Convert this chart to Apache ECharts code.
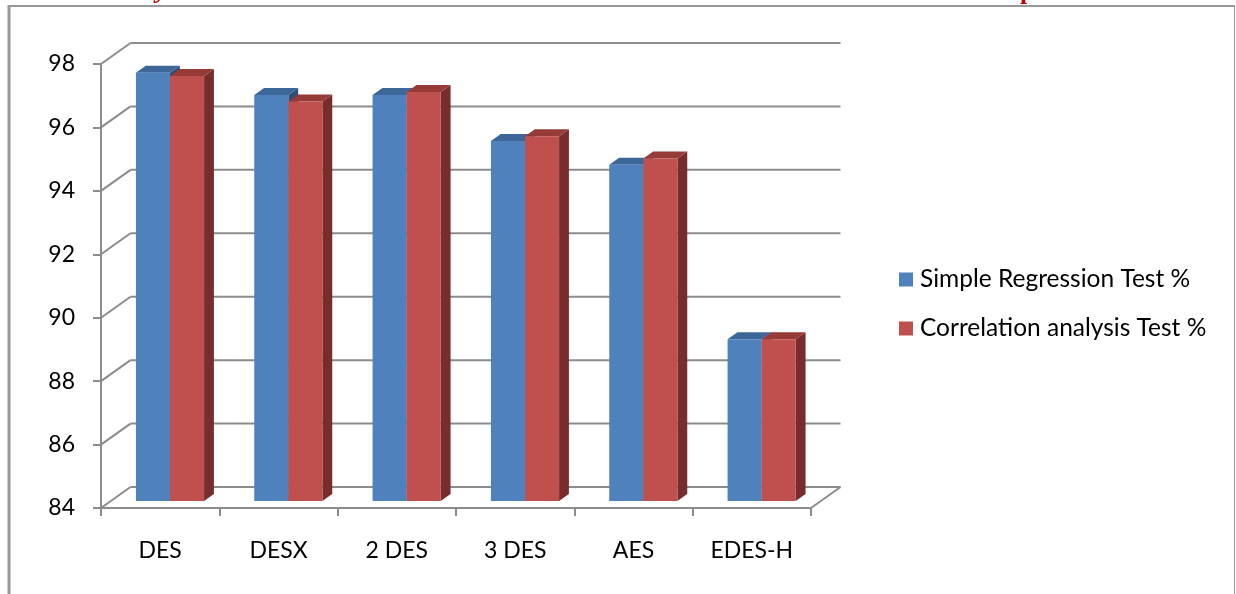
<!DOCTYPE html>
<html>
<head>
<meta charset="utf-8">
<script src="https://cdn.jsdelivr.net/npm/echarts@6/dist/echarts.min.js"></script>
<style>
html,body{margin:0;padding:0;background:#fff;}
#chart{width:1236px;height:594px;}
</style>
</head>
<body>
<div id="chart"></div>
<script>
// ---- data ----
const categories = ['DES', 'DESX', '2 DES', '3 DES', 'AES', 'EDES-H'];
const simpleRegression = [97.5, 96.8, 96.8, 95.35, 94.6, 89.1];
const correlationAnalysis = [97.4, 96.6, 96.9, 95.5, 94.8, 89.1];
const seriesNames = ['Simple Regression Test %', 'Correlation analysis Test %'];
const yTicks = [84, 86, 88, 90, 92, 94, 96, 98];

// ---- style constants ----
const FONT = 'Lato';
const GRID_COLOR = '#8c8c8c';
const DX = 29.5, DY = -21;          // depth of the 3D floor/wall
const BAR_START = 1 / 3;            // bars sit from 1/3 ...
const BAR_DEPTH = 1 / 3;            // ... with 1/3 of the depth
const BAR_FRAC = 0.288;             // bar width as fraction of the band
const COLORS = [
  { front: '#4F81BD', top: '#3D6799', side: '#2F4F76' },
  { front: '#C0504D', top: '#973B39', side: '#772D2C' }
];

const chart = echarts.init(document.getElementById('chart'));

function gridRender(params, api) {
  const v = api.value(1);
  const band = api.size([1, 0])[0];
  const p0 = api.coord([0, v]);
  const p1 = api.coord([categories.length - 1, v]);
  const xl = p0[0] - band / 2, xr = p1[0] + band / 2, y = p0[1];
  const ls = { stroke: GRID_COLOR, lineWidth: 2 };
  const children = [
    { type: 'line', shape: { x1: xl, y1: y, x2: xl + DX, y2: y + DY }, style: ls },
    { type: 'line', shape: { x1: xl + DX, y1: y + DY, x2: xr + DX, y2: y + DY }, style: ls }
  ];
  if (params.dataIndex === 0) {
    children.push({ type: 'line', shape: { x1: xr, y1: y, x2: xr + DX, y2: y + DY }, style: ls });
  }
  return { type: 'group', children };
}

function barRender(sIdx) {
  return function (params, api) {
    const i = api.value(0), v = api.value(1);
    const top = api.coord([i, v]);
    const base = api.coord([i, yTicks[0]]);
    const band = api.size([1, 0])[0];
    const w = band * BAR_FRAC;
    const cx = top[0] + DX * BAR_START;
    const x0 = sIdx === 0 ? cx - w : cx;
    const x1 = x0 + w;
    const yt = top[1] + DY * BAR_START;
    const yb = base[1] + DY * BAR_START;
    const ddx = DX * BAR_DEPTH, ddy = DY * BAR_DEPTH;
    const c = COLORS[sIdx];
    return {
      type: 'group',
      children: [
        { type: 'polygon', shape: { points: [[x1, yt], [x1 + ddx, yt + ddy], [x1 + ddx, yb + ddy], [x1, yb]] }, style: { fill: c.side } },
        { type: 'polygon', shape: { points: [[x0, yt], [x1, yt], [x1 + ddx, yt + ddy], [x0 + ddx, yt + ddy]] }, style: { fill: c.top } },
        { type: 'rect', shape: { x: x0, y: yt, width: w, height: yb - yt }, style: { fill: c.front } }
      ]
    };
  };
}

const option = {
  animation: false,
  color: [COLORS[0].front, COLORS[1].front],
  grid: { left: 101, top: 64, width: 710, height: 444, containLabel: false },
  xAxis: {
    type: 'category',
    data: categories,
    axisLine: { show: true, lineStyle: { color: GRID_COLOR, width: 2 } },
    axisTick: { show: true, length: 8, lineStyle: { color: GRID_COLOR, width: 2 } },
    axisLabel: { margin: 31, fontSize: 23, color: '#000', fontFamily: FONT },
    splitLine: { show: false }
  },
  yAxis: {
    type: 'value',
    min: 84, max: 98, interval: 2,
    axisLine: { show: true, lineStyle: { color: GRID_COLOR, width: 2 } },
    axisTick: { show: true, length: 8, lineStyle: { color: GRID_COLOR, width: 2 } },
    axisLabel: { margin: 26, fontSize: 23, color: '#000', fontFamily: FONT },
    splitLine: { show: false }
  },
  legend: {
    orient: 'vertical',
    left: 899, top: 267, padding: 0,
    itemWidth: 14, itemHeight: 14, itemGap: 24,
    icon: 'rect',
    data: seriesNames,
    textStyle: { fontSize: 24.5, color: '#000', fontFamily: FONT, lineHeight: 24, padding: [0, 0, 0, 2] }
  },
  series: [
    {
      type: 'custom', name: '_grid', silent: true, z: 1,
      renderItem: gridRender,
      encode: { x: 0, y: 1 },
      data: yTicks.map(v => [0, v])
    },
    {
      type: 'custom', name: seriesNames[0], z: 3,
      itemStyle: { color: COLORS[0].front },
      renderItem: barRender(0),
      encode: { x: 0, y: 1 },
      data: simpleRegression.map((v, i) => [i, v])
    },
    {
      type: 'custom', name: seriesNames[1], z: 4,
      itemStyle: { color: COLORS[1].front },
      renderItem: barRender(1),
      encode: { x: 0, y: 1 },
      data: correlationAnalysis.map((v, i) => [i, v])
    }
  ],
  graphic: [
    { type: 'text', left: 156, top: -22, style: { text: 'y', font: 'italic bold 26px "Liberation Serif"', fill: '#C00000' } },
    { type: 'text', left: 1020, top: -21, style: { text: 'p', font: 'bold 26px "Liberation Serif"', fill: '#C00000' } },
    { type: 'line', shape: { x1: 9, y1: 6, x2: 1235, y2: 6 }, style: { stroke: '#999', lineWidth: 2 } },
    { type: 'line', shape: { x1: 9, y1: 5, x2: 9, y2: 600 }, style: { stroke: '#999', lineWidth: 3 } },
    { type: 'line', shape: { x1: 1234.5, y1: 5, x2: 1234.5, y2: 600 }, style: { stroke: '#999', lineWidth: 1 } }
  ]
};
chart.setOption(option);
</script>
</body>
</html>
